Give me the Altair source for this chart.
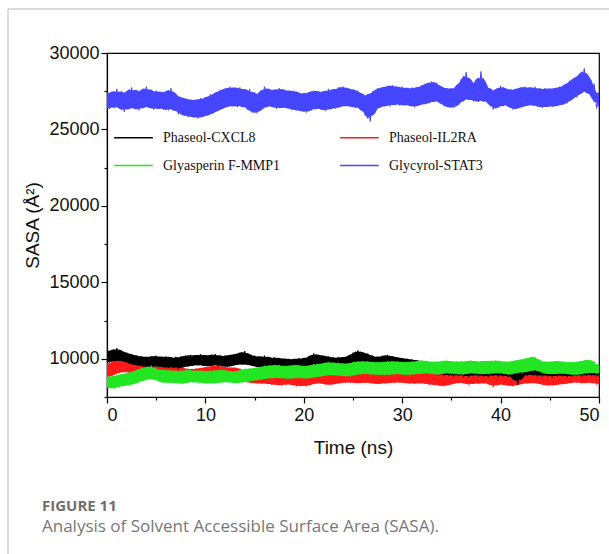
import altair as alt
import pandas as pd

SERIES = ["Phaseol-CXCL8", "Phaseol-IL2RA", "Glyasperin F-MMP1", "Glycyrol-STAT3"]
DRAW_ORDER = ["Phaseol-IL2RA", "Phaseol-CXCL8", "Glyasperin F-MMP1", "Glycyrol-STAT3"]
# legend is laid out column by column: CXCL8 / Glyasperin in column 1, IL2RA / STAT3 in column 2
LEGEND_ORDER = ["Phaseol-CXCL8", "Glyasperin F-MMP1", "Phaseol-IL2RA", "Glycyrol-STAT3"]
LEGEND_COLORS = ["#000000", "#22e622", "#ff1a1a", "#4646ff"]
STEP_NS = 0.25  # trace read every 0.25 ns: alternating upper / lower excursions of the noise

black = [
    10500, 9750, 10550, 9850, 10700, 9900, 10500, 9800, 10400, 9700, 10300, 9600, 10200, 9550, 10150, 9500, 10100, 9450, 10150, 9500,
    10200, 9500, 10100, 9450, 10150, 9400, 10100, 9500, 10050, 9350, 10150, 9450, 10200, 9500, 10250, 9550, 10200, 9600, 10300, 9550,
    10200, 9500, 10250, 9550, 10300, 9600, 10150, 9500, 10200, 9450, 10250, 9550, 10300, 9600, 10400, 9650, 10500, 9600, 10250, 9550,
    10200, 9450, 10100, 9450, 10200, 9400, 10050, 9400, 10100, 9350, 10050, 9350, 10000, 9300, 10000, 9250, 9950, 9300, 10050, 9350,
    10000, 9350, 10150, 9450, 10350, 9600, 10250, 9600, 10200, 9500, 10150, 9450, 10050, 9400, 10100, 9450, 10100, 9350, 10150, 9450,
    10400, 9700, 10550, 9750, 10400, 9700, 10350, 9650, 10150, 9450, 10100, 9400, 10200, 9500, 10250, 9500, 10150, 9450, 10100, 9400,
    10050, 9350, 10000, 9300, 9950, 9250, 9900, 9200, 9850, 9150, 9800, 9100, 9700, 9050, 9650, 9000, 9550, 8950, 9500, 8950,
    9500, 8900, 9400, 8950, 9450, 8900, 9350, 8850, 9450, 8950, 9350, 8900, 9400, 8900, 9300, 8850, 9450, 8950, 9400, 8900,
    9400, 8900, 9300, 8850, 9250, 8800, 9300, 8300, 9400, 8900, 9450, 8950, 9500, 8950, 9450, 8900, 9400, 8900, 9450, 8900,
    9350, 8850, 9400, 8900, 9350, 8900, 9400, 8850, 9400, 8900, 9450, 8950, 9450, 8900, 9500, 8950, 9550, 8950, 9450, 8900,
    9100,
]

red = [
    9650, 8800, 9750, 8950, 9950, 9100, 10000, 9150, 9900, 9100, 9850, 9050, 9600, 8850, 9550, 8750, 9500, 8800, 9550, 8750,
    9450, 8700, 9550, 8750, 9550, 8850, 9600, 8800, 9500, 8750, 9450, 8700, 9350, 8600, 9300, 8550, 9350, 8600, 9400, 8600,
    9450, 8700, 9500, 8750, 9550, 8750, 9550, 8800, 9450, 8700, 9400, 8650, 9450, 8650, 9350, 8600, 9200, 8450, 9150, 8400,
    9150, 8400, 9100, 8350, 9100, 8400, 9050, 8300, 9100, 8300, 9000, 8250, 9150, 8350, 9100, 8300, 9000, 8200, 9050, 8250,
    9000, 8200, 9050, 8300, 9200, 8400, 9100, 8400, 9100, 8300, 9050, 8300, 9150, 8350, 9150, 8400, 9250, 8450, 9200, 8450,
    9200, 8400, 9150, 8400, 9200, 8450, 9150, 8400, 9100, 8350, 9150, 8350, 9200, 8400, 9150, 8400, 9250, 8450, 9200, 8450,
    9200, 8400, 9100, 8400, 9100, 8350, 9200, 8400, 9150, 8400, 9100, 8300, 9050, 8300, 9000, 8250, 9000, 8200, 9100, 8300,
    9150, 8350, 9200, 8450, 9150, 8400, 9100, 8300, 9150, 8400, 9150, 8350, 9200, 8400, 9150, 8400, 9100, 8150, 9150, 8350,
    9100, 8300, 9050, 8250, 9000, 8200, 9050, 8300, 9150, 8350, 9150, 8400, 9200, 8400, 9150, 8400, 9100, 8300, 9050, 8250,
    9050, 8250, 9100, 8300, 9100, 8350, 9150, 8350, 9250, 8450, 9250, 8450, 9200, 8400, 9200, 8400, 9250, 8450, 9200, 8350,
    8700,
]

green = [
    8850, 8100, 8800, 8050, 8950, 8150, 9000, 8250, 9050, 8250, 9150, 8350, 9250, 8450, 9400, 8600, 9450, 8650, 9550, 8700,
    9300, 8500, 9250, 8400, 9300, 8450, 9200, 8400, 9250, 8400, 9150, 8350, 9300, 8450, 9250, 8500, 9200, 8400, 9250, 8450,
    9150, 8350, 9250, 8400, 9200, 8400, 9300, 8450, 9250, 8500, 9200, 8400, 9150, 8400, 9250, 8450, 9350, 8500, 9350, 8550,
    9400, 8600, 9450, 8650, 9550, 8700, 9550, 8750, 9600, 8750, 9600, 8750, 9500, 8700, 9550, 8700, 9600, 8750, 9600, 8750,
    9500, 8700, 9550, 8750, 9650, 8800, 9650, 8850, 9700, 8900, 9800, 8950, 9700, 8900, 9750, 8900, 9650, 8850, 9700, 8850,
    9750, 8950, 9850, 9000, 9800, 9000, 9850, 9000, 9750, 8950, 9800, 8950, 9750, 8950, 9850, 8950, 9800, 9000, 9850, 9000,
    9750, 8950, 9800, 8950, 9800, 9000, 9850, 9000, 9900, 9050, 9850, 9050, 9800, 9000, 9800, 8950, 9850, 9050, 9900, 9050,
    9800, 9000, 9850, 9000, 9800, 8950, 9850, 9050, 9900, 9050, 9800, 9000, 9850, 9000, 9850, 9000, 9850, 9050, 9900, 9050,
    9850, 9050, 9800, 8950, 9800, 9000, 9900, 9100, 9950, 9100, 10000, 9150, 10100, 9250, 10150, 9250, 9850, 9050, 9800, 9000,
    9800, 9000, 9850, 9000, 9850, 9050, 9800, 9000, 9750, 8950, 9800, 8950, 9800, 9000, 9900, 9050, 9950, 9100, 9850, 9050,
    9450,
]

blue = [
    27450, 26350, 27350, 26500, 27650, 26400, 27300, 26150, 27500, 26450, 27750, 26350, 27400, 26250, 27600, 26500, 27800, 26450, 27450, 26300,
    27550, 26400, 27400, 26300, 27450, 26250, 27700, 26400, 27250, 26000, 27100, 25950, 27000, 25800, 26950, 25850, 26900, 25700, 27050, 25850,
    27000, 25900, 27300, 26050, 27350, 26200, 27600, 26350, 27650, 26500, 27800, 26550, 27700, 26450, 27750, 26600, 27550, 26300, 27650, 26100,
    27250, 26050, 27400, 26300, 27800, 26550, 27600, 26500, 27550, 26350, 27700, 26450, 27600, 26400, 27500, 26300, 27550, 26250, 27400, 26200,
    27300, 26100, 27450, 26250, 27550, 26400, 27500, 26300, 27400, 26200, 27650, 26400, 27550, 26350, 27750, 26500, 27800, 26550, 27700, 26500,
    27600, 26400, 27550, 26450, 27250, 25900, 27200, 25500, 27500, 26300, 27700, 26400, 27750, 26600, 27850, 26500, 27900, 26700, 27750, 26550,
    27800, 26600, 27650, 26550, 27750, 26450, 27700, 26600, 27900, 26650, 28000, 26700, 28150, 26900, 28050, 26800, 27750, 26500, 27700, 26450,
    27650, 26400, 27750, 26600, 28300, 26950, 28750, 27000, 28050, 26850, 28000, 26800, 28800, 26950, 27950, 26700, 27500, 26300, 27600, 26400,
    27850, 26650, 27700, 26500, 27550, 26300, 27650, 26350, 27750, 26500, 27800, 26550, 27700, 26600, 27800, 26500, 27600, 26400, 27700, 26550,
    27650, 26450, 27700, 26550, 27800, 26600, 27850, 26700, 28200, 27000, 28350, 27100, 28600, 27450, 29000, 27500, 28400, 27150, 28000, 26450,
    26800,
]

X_TICKS = [0, 10, 20, 30, 40, 50]
X_MINOR = [5, 15, 25, 35, 45]
Y_TICKS = [10000, 15000, 20000, 25000, 30000]
Y_MINOR = [7500, 12500, 17500, 22500, 27500]

frames = []
for name, vals in zip(SERIES, [black, red, green, blue]):
    part = pd.DataFrame({
        "t": [i * STEP_NS for i in range(len(vals))],
        "sasa": vals,
        "series": name,
    })
    # solid core of the noisy trace: local mean of the upper and of the lower excursions
    even = part.index % 2 == 0
    part["hi"] = part["sasa"].where(even).rolling(5, center=True, min_periods=1).mean()
    part["lo"] = part["sasa"].where(~even).rolling(5, center=True, min_periods=1).mean()
    frames.append(part)
df = pd.concat(frames, ignore_index=True)

xscale = alt.Scale(domain=[0, 50], nice=False, zero=False)
yscale = alt.Scale(domain=[7500, 30000], nice=False, zero=False)

x_axis = alt.Axis(values=X_TICKS, title="Time (ns)", orient="bottom", tickSize=6,
                  labelPadding=3, titlePadding=14, format="d")
y_axis = alt.Axis(values=Y_TICKS, title="SASA (Å²)", orient="left", tickSize=6,
                  labelPadding=2, titlePadding=6, format="d")

legend = alt.Legend(
    title=None, orient="none", legendX=6, legendY=64, columns=2,
    columnPadding=56, rowPadding=-17, symbolType="stroke",
    symbolSize=1500, symbolStrokeWidth=1.5, labelFont="Liberation Serif",
    labelFontSize=14, labelColor="#111", labelOffset=9, padding=0, labelLimit=300)
color = alt.Color("series:N", scale=alt.Scale(domain=LEGEND_ORDER, range=LEGEND_COLORS),
                  legend=legend)

series_layers = []
for s in DRAW_ORDER:
    base = alt.Chart(df).transform_filter(alt.datum.series == s)
    band = base.mark_area(clip=True, opacity=1, interpolate="linear").encode(
        x=alt.X("t:Q", scale=xscale, axis=x_axis),
        y=alt.Y("lo:Q", scale=yscale, axis=y_axis, stack=None),
        y2="hi:Q",
        color=color,
    )
    trace = base.mark_line(strokeWidth=1.1, clip=True).encode(
        x=alt.X("t:Q", scale=xscale, axis=x_axis),
        y=alt.Y("sasa:Q", scale=yscale, axis=y_axis),
        color=color,
        order="t:Q",
    )
    series_layers += [band, trace]
lines = alt.layer(*series_layers)

minor = alt.Chart(df.head(2)).mark_point(opacity=0).encode(
    x=alt.X("t:Q", scale=xscale, axis=alt.Axis(
        values=X_MINOR, labels=False, tickSize=3, domain=False, orient="bottom", title=None)),
    y=alt.Y("sasa:Q", scale=yscale, axis=alt.Axis(
        values=Y_MINOR, labels=False, tickSize=3, domain=False, orient="left", title=None)),
)

deco = pd.DataFrame({"k": [0]})
frame_top = alt.Chart(deco).mark_rule(color="#cfcfcf", strokeWidth=1.5).encode(
    x=alt.value(-99), x2=alt.value(502), y=alt.value(-44))
frame_left = alt.Chart(deco).mark_rule(color="#cfcfcf", strokeWidth=1.5).encode(
    x=alt.value(-99), y=alt.value(-44), y2=alt.value(501))

cap1 = alt.Chart(deco).mark_text(
    text="FIGURE 11", align="left", baseline="middle", font="Open Sans",
    fontSize=15, fontWeight="bold", color="#6f6f6f").encode(
    x=alt.value(-65), y=alt.value(453))
cap2 = alt.Chart(deco).mark_text(
    text="Analysis of Solvent Accessible Surface Area (SASA).", align="left",
    baseline="middle", font="Open Sans", fontSize=17, color="#777777").encode(
    x=alt.value(-65), y=alt.value(474))

chart = alt.layer(lines, minor, frame_top, frame_left, cap1, cap2).resolve_axis(
    x="independent", y="independent"
).properties(
    width=492, height=344,
    autosize=alt.AutoSizeParams(type="none"),
    padding={"left": 107, "top": 53, "right": 10, "bottom": 157},
    background="white",
).configure_view(
    stroke="#000", strokeWidth=1.2
).configure_axis(
    domainColor="#000", domainWidth=1.2, tickColor="#000", tickWidth=1.2,
    labelFont="Liberation Sans", labelFontSize=18, labelColor="#111",
    titleFont="Liberation Sans", titleFontSize=19, titleFontWeight="normal",
    titleColor="#111", grid=False,
)

chart.save("out.html", embed_options={"renderer": "svg", "actions": False})
